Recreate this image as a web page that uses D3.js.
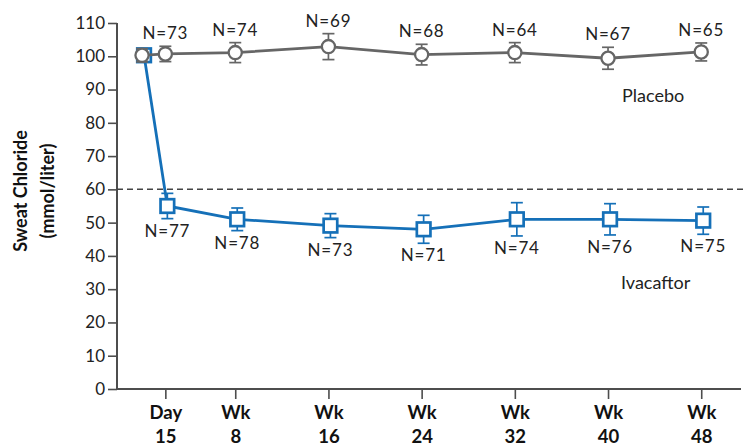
<!DOCTYPE html>
<html>
  <head>
    <title>Sweat Chloride</title>
    <script src="https://d3js.org/d3.v7.min.js"></script>
    <style>
      body { margin: 0; background: #fff; }
      text { font-family: Lato, "Open Sans", sans-serif; }
    </style>
  </head>
  <body>
    <div id="chart"></div>
    <script>
      // time points in weeks (Day 15 ~ week 2), baseline at week 0
      const weeks = [0, 2, 8, 16, 24, 32, 40, 48];
      const tickWeeks = [2, 8, 16, 24, 32, 40, 48];
      const tickTop = ["Day", "Wk", "Wk", "Wk", "Wk", "Wk", "Wk"];
      const tickBottom = ["15", "8", "16", "24", "32", "40", "48"];

      const placebo = [100.3, 100.7, 101.1, 102.9, 100.5, 101.1, 99.4, 101.3];
      const placeboErr = [2.0, 2.3, 3.0, 3.9, 3.1, 3.0, 3.3, 2.7];
      const placeboN = [null, "N=73", "N=74", "N=69", "N=68", "N=64", "N=67", "N=65"];

      const ivacaftor = [100.3, 55.0, 51.0, 49.1, 48.0, 51.0, 51.0, 50.6];
      const ivacaftorErr = [1.5, 3.8, 3.4, 3.6, 4.2, 5.0, 4.7, 4.1];
      const ivacaftorN = [null, "N=77", "N=78", "N=73", "N=71", "N=74", "N=76", "N=75"];

      const yTicks = d3.range(0, 111, 10);
      const threshold = 60;

      const width = 744, height = 446;
      const margin = { top: 23, right: 2, bottom: 57, left: 117 };

      const svg = d3.select("#chart").append("svg")
        .attr("width", width)
        .attr("height", height);

      const x = d3.scaleLinear()
        .domain([-2.15, 51.5])
        .range([margin.left, width - margin.right]);

      const y = d3.scaleLinear()
        .domain([0, 110])
        .range([height - margin.bottom, margin.top]);

      const axisColor = "#4d4d4d";
      const grey = "#666666";
      const blue = "#1570b8";

      // y axis
      const yAxis = svg.append("g")
        .attr("transform", "translate(" + margin.left + ",0)")
        .call(d3.axisLeft(y).tickValues(yTicks).tickSize(9).tickPadding(3));
      yAxis.select(".domain").attr("stroke", axisColor).attr("stroke-width", 2)
        .attr("d", "M0," + y(110) + "V" + y(0));
      yAxis.selectAll(".tick line").attr("stroke", axisColor).attr("stroke-width", 1.6);
      yAxis.selectAll(".tick text")
        .attr("fill", "#222")
        .style("font-size", "17px")
        .style("font-family", "Lato, sans-serif");

      // x axis
      const xAxis = svg.append("g")
        .attr("transform", "translate(0," + y(0) + ")")
        .call(d3.axisBottom(x).tickValues(tickWeeks).tickSize(10).tickFormat(""));
      xAxis.select(".domain").attr("stroke", axisColor).attr("stroke-width", 2)
        .attr("d", "M" + margin.left + ",0H" + (width - 3));
      xAxis.selectAll(".tick line").attr("stroke", axisColor).attr("stroke-width", 1.6);
      xAxis.selectAll(".tick").each(function (d, i) {
        const t = d3.select(this).append("text")
          .attr("fill", "#111")
          .attr("text-anchor", "middle")
          .style("font-size", "18.5px")
          .style("font-weight", "bold")
          .style("font-family", "Lato, sans-serif");
        t.append("tspan").attr("x", 0).attr("y", 30).text(tickTop[i]);
        t.append("tspan").attr("x", 0).attr("y", 54).text(tickBottom[i]);
      });

      // y axis title
      const title = svg.append("text")
        .attr("transform", "translate(27,191) rotate(-90)")
        .attr("text-anchor", "middle")
        .attr("fill", "#111")
        .style("font-size", "18px")
        .style("font-weight", "bold");
      title.append("tspan").attr("x", 0).attr("y", 0).text("Sweat Chloride");
      title.append("tspan").attr("x", 0).attr("y", 27).text("(mmol/liter)");

      // dashed reference line
      svg.append("line")
        .attr("x1", margin.left)
        .attr("x2", width)
        .attr("y1", y(threshold))
        .attr("y2", y(threshold))
        .attr("stroke", "#444")
        .attr("stroke-width", 1.5)
        .attr("stroke-dasharray", "6,4");

      function drawSeries(vals, errs, labels, color, dx, marker, labelAbove) {
        const rows = vals.map((v, i) => ({ w: weeks[i], v: v, e: errs[i], n: labels[i] }));
        const g = svg.append("g");
        const line = d3.line()
          .x(d => x(d.w) + dx)
          .y(d => y(d.v));

        g.append("path")
          .datum(rows)
          .attr("fill", "none")
          .attr("stroke", color)
          .attr("stroke-width", 2.8)
          .attr("d", line);

        const pts = g.selectAll(".pt")
          .data(rows)
          .enter()
          .append("g")
          .attr("transform", d => "translate(" + (x(d.w) + dx) + ",0)");

        pts.append("line")
          .attr("y1", d => y(d.v + d.e))
          .attr("y2", d => y(d.v - d.e))
          .attr("stroke", color)
          .attr("stroke-width", 1.7);
        pts.append("line")
          .attr("x1", -6).attr("x2", 6)
          .attr("y1", d => y(d.v + d.e))
          .attr("y2", d => y(d.v + d.e))
          .attr("stroke", color)
          .attr("stroke-width", 1.7);
        pts.append("line")
          .attr("x1", -6).attr("x2", 6)
          .attr("y1", d => y(d.v - d.e))
          .attr("y2", d => y(d.v - d.e))
          .attr("stroke", color)
          .attr("stroke-width", 1.7);

        if (marker === "circle") {
          pts.append("circle")
            .attr("cy", d => y(d.v))
            .attr("r", 6.6)
            .attr("fill", "#fff")
            .attr("stroke", color)
            .attr("stroke-width", 2.3);
        } else {
          pts.append("rect")
            .attr("x", -6.8)
            .attr("y", d => y(d.v) - 6.8)
            .attr("width", 13.6)
            .attr("height", 13.6)
            .attr("fill", "#fff")
            .attr("stroke", color)
            .attr("stroke-width", 2.7);
        }

        pts.filter(d => d.n)
          .append("text")
          .attr("text-anchor", "middle")
          .attr("fill", "#222")
          .style("font-size", "17px")
          .style("letter-spacing", "0.8px")
          .attr("y", d => labelAbove ? y(d.v + d.e) - 7 : y(d.v - d.e) + 18)
          .text(d => d.n);
      }

      drawSeries(ivacaftor, ivacaftorErr, ivacaftorN, blue, 2, "square", false);
      drawSeries(placebo, placeboErr, placeboN, grey, 0, "circle", true);

      svg.append("text")
        .attr("x", 622)
        .attr("y", y(88) + 6)
        .attr("fill", "#222")
        .style("font-size", "18px")
        .text("Placebo");

      svg.append("text")
        .attr("x", 621)
        .attr("y", y(32) + 6)
        .attr("fill", "#222")
        .style("font-size", "18px")
        .text("Ivacaftor");
    </script>
  </body>
</html>
